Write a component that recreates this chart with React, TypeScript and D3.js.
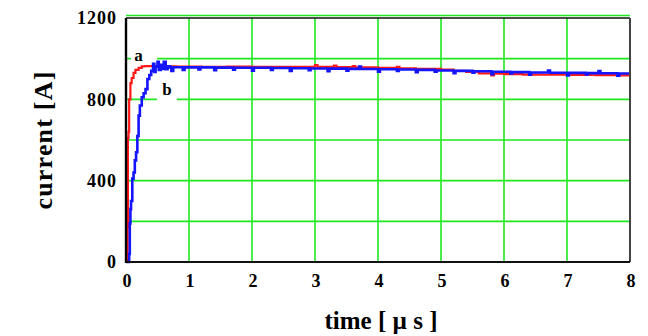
import * as d3 from 'd3';

const W = 648;
const H = 336;
const [mt, mr, mb, ml] = [18, 18, 74, 126];

// curve a (red)
const redTime = [0, 0.02, 0.025, 0.03, 0.04, 0.05, 0.07, 0.09, 0.12, 0.15, 0.2, 0.25, 0.3, 0.5, 0.8, 1.2, 1.6, 2.0, 2.4, 2.8, 3.0, 3.04, 3.3, 3.34, 3.6, 3.64, 4.0, 4.3, 4.34, 4.6, 5.0, 5.2, 5.4, 5.6, 5.8, 5.84, 6.0, 6.3, 6.6, 7.0, 7.4, 7.44, 7.8, 8.0];
const redCurrent = [0, 0, 170, 610, 640, 800, 880, 905, 930, 945, 955, 962, 963, 962, 961, 960, 961, 960, 960, 960, 968, 960, 966, 958, 964, 957, 955, 960, 952, 950, 946, 940, 935, 928, 918, 926, 924, 922, 921, 920, 925, 919, 918, 917];

// curve b (blue)
const blueTime = [0, 0.04, 0.05, 0.06, 0.07, 0.08, 0.1, 0.12, 0.14, 0.16, 0.18, 0.2, 0.22, 0.25, 0.28, 0.31, 0.34, 0.37, 0.4, 0.43, 0.45, 0.47, 0.5, 0.52, 0.55, 0.58, 0.6, 0.63, 0.66, 0.7, 0.72, 0.75, 0.9, 0.93, 1.15, 1.18, 1.4, 1.43, 1.7, 1.73, 2.0, 2.03, 2.3, 2.33, 2.6, 2.63, 2.9, 2.93, 3.2, 3.23, 3.5, 3.53, 3.7, 3.73, 4.0, 4.03, 4.3, 4.33, 4.6, 4.63, 4.9, 4.93, 5.2, 5.23, 5.5, 5.53, 5.8, 5.83, 6.1, 6.13, 6.4, 6.43, 6.7, 6.73, 7.0, 7.03, 7.3, 7.33, 7.5, 7.53, 7.8, 7.83, 8.0];
const blueCurrent = [0, 0, 40, 190, 260, 300, 410, 440, 500, 540, 620, 720, 770, 810, 830, 850, 900, 920, 940, 975, 935, 960, 985, 945, 970, 950, 985, 948, 962, 957, 940, 958, 944, 957, 947, 957, 943, 956, 946, 955, 941, 955, 944, 954, 940, 953, 943, 952, 938, 951, 941, 950, 961, 949, 936, 948, 939, 947, 933, 945, 936, 942, 928, 940, 931, 938, 924, 936, 927, 934, 921, 932, 941, 931, 918, 930, 922, 929, 939, 928, 916, 927, 927];

const xTicks = [0, 1, 2, 3, 4, 5, 6, 7, 8];
const yTicks = [0, 400, 800, 1200];
const yGrid = [200, 400, 600, 800, 1000, 1200];

const serif = '"Liberation Serif", "Times New Roman", serif';
const green = '#1ee81e';

export default function App() {
  const x = d3.scaleLinear().domain([0, 8]).range([ml, W - mr]);
  const y = d3.scaleLinear().domain([0, 1200]).range([H - mb, mt]);

  const redPath =
    d3
      .line<number>()
      .curve(d3.curveStepAfter)
      .x((t) => x(t))
      .y((_t, i) => y(redCurrent[i]))(redTime) || '';
  const bluePath =
    d3
      .line<number>()
      .curve(d3.curveStepAfter)
      .x((t) => x(t))
      .y((_t, i) => y(blueCurrent[i]))(blueTime) || '';

  return (
    <svg width={W} height={H} style={{ position: 'absolute', left: 0, top: 0, background: '#fff' }}>
      {/* grid */}
      {xTicks.slice(1, -1).map((t) => (
        <line key={'gx' + t} x1={x(t)} x2={x(t)} y1={y(1200)} y2={y(0)} stroke={green} strokeWidth={1.6} />
      ))}
      {yGrid.map((v) => (
        <line
          key={'gy' + v}
          x1={x(0)}
          x2={x(8)}
          y1={v === 1200 ? y(v) - 2.5 : y(v)}
          y2={v === 1200 ? y(v) - 2.5 : y(v)}
          stroke={green}
          strokeWidth={1.6}
        />
      ))}

      {/* label boxes */}
      <rect x={x(0) + 5} y={y(1000) - 12} width={26} height={22} fill="#fff" />
      <rect x={x(0.49)} y={y(800) - 16} width={20} height={26} fill="#fff" />

      {/* curves */}
      <path d={redPath} fill="none" stroke="#ff1a1a" strokeWidth={2.2} />
      <path d={bluePath} fill="none" stroke="#1414ff" strokeWidth={2.6} />

      {/* frame */}
      <line x1={x(0)} x2={x(8)} y1={y(1200)} y2={y(1200)} stroke="#111" strokeWidth={1.6} />
      <line x1={x(8)} x2={x(8)} y1={y(1200)} y2={y(0)} stroke="#444" strokeWidth={2} />
      <line x1={x(0)} x2={x(8)} y1={y(0)} y2={y(0)} stroke="#111" strokeWidth={2} />
      <line x1={x(0)} x2={x(0)} y1={y(1200)} y2={y(0) + 1} stroke="#000" strokeWidth={2.4} />

      {/* curve labels */}
      <text x={x(0.2)} y={y(1000) + 2} textAnchor="middle" fontFamily={serif} fontWeight="bold" fontSize={17}>
        a
      </text>
      <text x={x(0.65)} y={y(800) - 4} textAnchor="middle" fontFamily={serif} fontWeight="bold" fontSize={17}>
        b
      </text>

      {/* y tick labels */}
      {yTicks.map((v) => (
        <text
          key={'yt' + v}
          x={x(0) - 9}
          y={y(v)}
          dy="0.35em"
          textAnchor="end"
          fontFamily={serif}
          fontWeight="bold"
          fontSize={18}
          letterSpacing={1}
        >
          {v}
        </text>
      ))}

      {/* x tick labels */}
      {xTicks.map((t) => (
        <text
          key={'xt' + t}
          x={x(t) + 1}
          y={y(0) + 19}
          dy="0.35em"
          textAnchor="middle"
          fontFamily={serif}
          fontWeight="bold"
          fontSize={18}
        >
          {t}
        </text>
      ))}

      {/* axis titles */}
      <text x={381} y={329} textAnchor="middle" fontFamily={serif} fontWeight="bold" fontSize={25}>
        time [ µ s ]
      </text>
      <text
        transform={`translate(52, 140) rotate(-90)`}
        textAnchor="middle"
        fontFamily={serif}
        fontWeight="bold"
        fontSize={26}
        letterSpacing={1.2}
      >
        current [A]
      </text>
    </svg>
  );
}
